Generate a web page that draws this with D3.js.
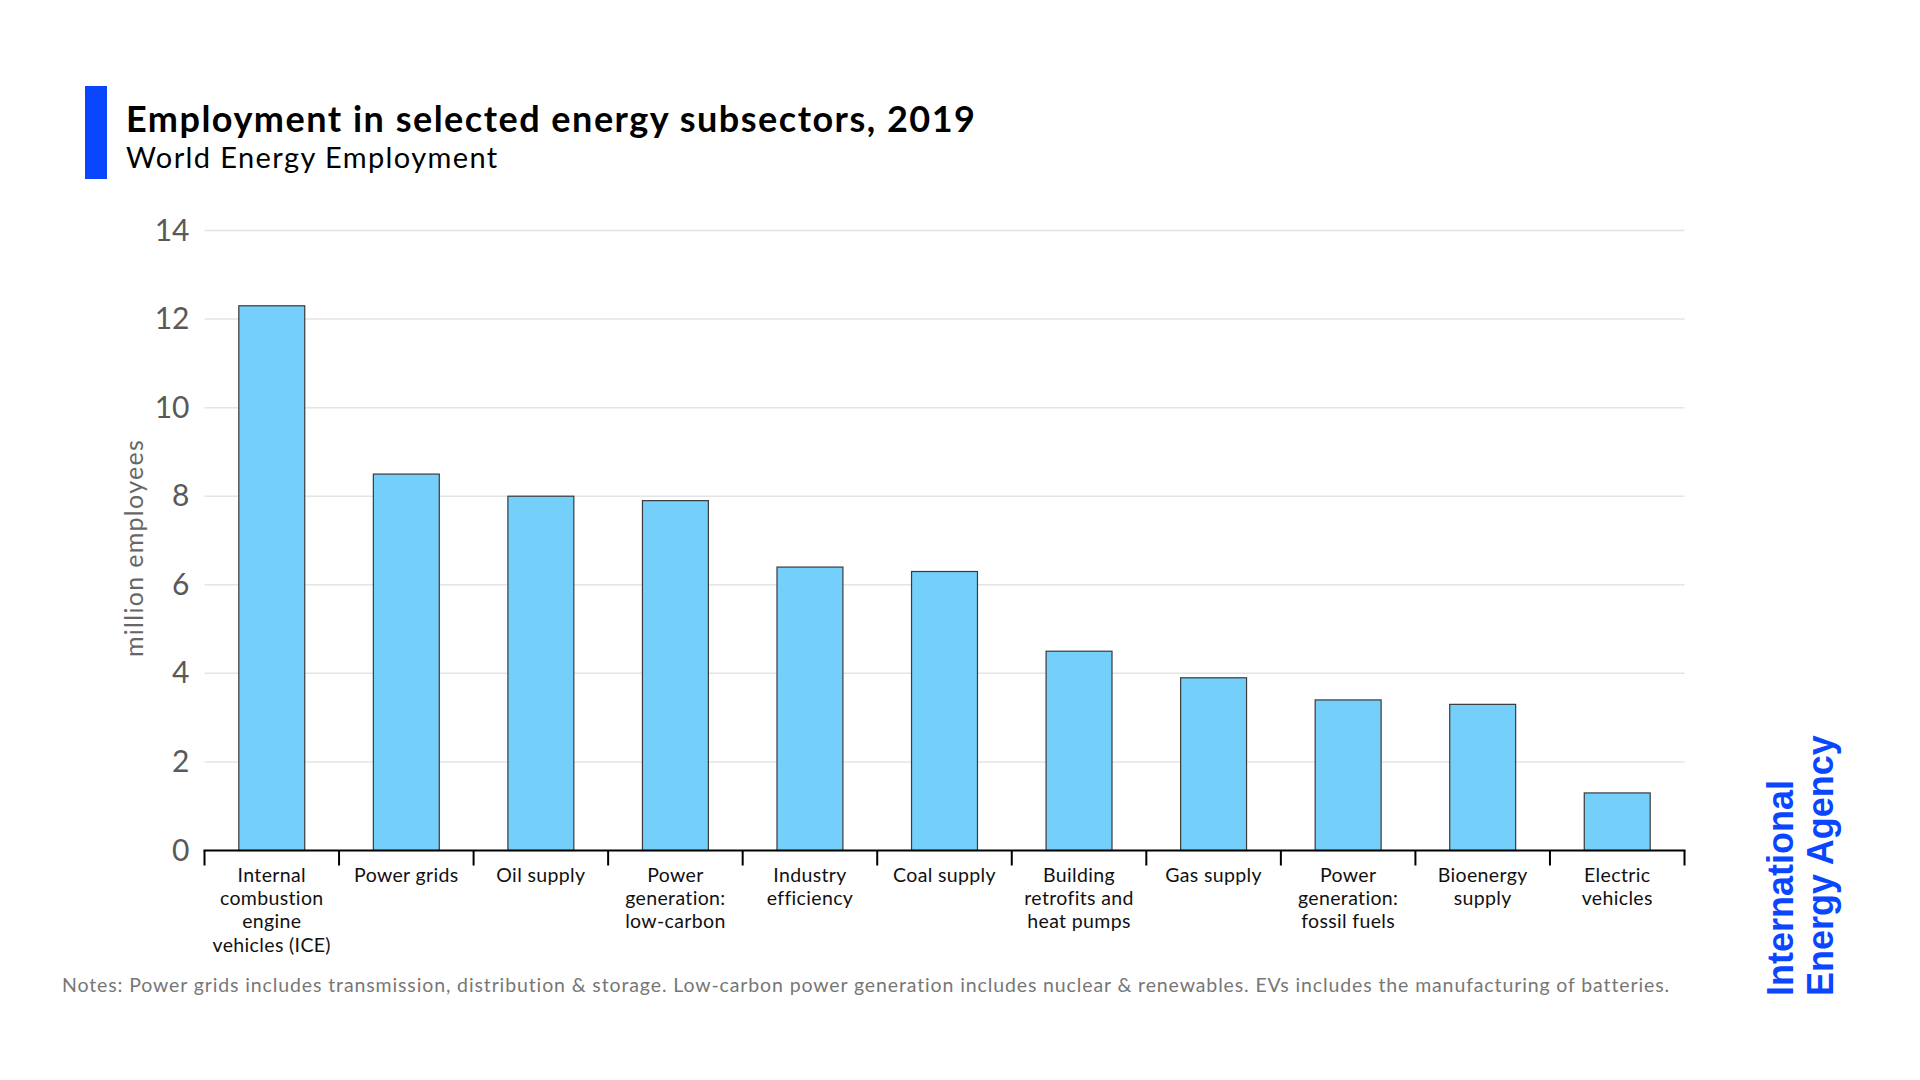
<!DOCTYPE html>
<html>
<head>
<meta charset="utf-8">
<script src="https://cdn.jsdelivr.net/npm/d3@7"></script>
<style>
  html, body { margin: 0; padding: 0; background: #ffffff; }
  svg { display: block; }
</style>
</head>
<body>
<svg id="chart" width="1920" height="1080"></svg>
<script>
// ---- Data ----
const categories = [
  "Internal\ncombustion\nengine\nvehicles (ICE)",
  "Power grids",
  "Oil supply",
  "Power\ngeneration:\nlow-carbon",
  "Industry\nefficiency",
  "Coal supply",
  "Building\nretrofits and\nheat pumps",
  "Gas supply",
  "Power\ngeneration:\nfossil fuels",
  "Bioenergy\nsupply",
  "Electric\nvehicles"
];
const employees = [12.3, 8.5, 8.0, 7.9, 6.4, 6.3, 4.5, 3.9, 3.4, 3.3, 1.3];
const yTicks = [0, 2, 4, 6, 8, 10, 12, 14];

const titleText = "Employment in selected energy subsectors, 2019";
const subtitleText = "World Energy Employment";
const yAxisLabel = "million employees";
const notesText = "Notes: Power grids includes transmission, distribution & storage. Low-carbon power generation includes nuclear & renewables. EVs includes the manufacturing of batteries.";
const logoLines = ["International", "Energy Agency"];

// ---- Layout ----
const FONT = "Lato, 'Open Sans', sans-serif";
const svg = d3.select("#chart");
const plot = { left: 204.5, right: 1684.5, top: 230.5, bottom: 850.5 };

const x = d3.scaleBand()
  .domain(categories)
  .range([plot.left, plot.right])
  .paddingInner(0)
  .paddingOuter(0);

const y = d3.scaleLinear()
  .domain([0, 14])
  .range([plot.bottom, plot.top]);

// Title block
svg.append("rect")
  .attr("x", 85).attr("y", 86)
  .attr("width", 22).attr("height", 93)
  .attr("fill", "#0b46ff");

svg.append("text")
  .attr("x", 126).attr("y", 131.5)
  .attr("font-family", FONT)
  .attr("font-weight", 700)
  .attr("font-size", 36)
  .attr("letter-spacing", 1.5)
  .attr("fill", "#000")
  .text(titleText);

svg.append("text")
  .attr("x", 126).attr("y", 168)
  .attr("font-family", FONT)
  .attr("font-weight", 400)
  .attr("font-size", 29)
  .attr("letter-spacing", 1.4)
  .attr("fill", "#000")
  .text(subtitleText);

// Gridlines
svg.append("g")
  .selectAll("line")
  .data(yTicks.filter(d => d !== 0))
  .join("line")
  .attr("x1", plot.left)
  .attr("x2", plot.right)
  .attr("y1", d => y(d))
  .attr("y2", d => y(d))
  .attr("stroke", "#e4e4e4")
  .attr("stroke-width", 1.5);

// Y axis (labels only)
const yAxis = d3.axisLeft(y)
  .tickValues(yTicks)
  .tickSize(0)
  .tickPadding(15)
  .tickFormat(d3.format("d"));

const gy = svg.append("g")
  .attr("transform", `translate(${plot.left},0)`)
  .call(yAxis);
gy.select(".domain").remove();
gy.selectAll("text")
  .attr("font-family", FONT)
  .attr("font-size", 30)
  .attr("fill", "#595959");

// Y axis title
svg.append("text")
  .attr("transform", `translate(143,548) rotate(-90)`)
  .attr("text-anchor", "middle")
  .attr("font-family", FONT)
  .attr("font-size", 25)
  .attr("letter-spacing", 1.3)
  .attr("fill", "#666666")
  .text(yAxisLabel);

// Bars
const barW = x.bandwidth() * 0.49;
svg.append("g")
  .selectAll("rect")
  .data(categories.map((c, i) => ({ c, v: employees[i] })))
  .join("rect")
  .attr("x", d => x(d.c) + (x.bandwidth() - barW) / 2)
  .attr("y", d => y(d.v))
  .attr("width", barW)
  .attr("height", d => y(0) - y(d.v))
  .attr("fill", "#74cffa")
  .attr("stroke", "#3a3a3a")
  .attr("stroke-width", 1.2);

// X axis: baseline and boundary ticks
const boundaries = categories.map(c => x(c)).concat([plot.right]);
const gx = svg.append("g");
gx.append("line")
  .attr("x1", plot.left - 1).attr("x2", plot.right + 1)
  .attr("y1", y(0)).attr("y2", y(0))
  .attr("stroke", "#000").attr("stroke-width", 2);
gx.selectAll("line.tick")
  .data(boundaries)
  .join("line")
  .attr("class", "tick")
  .attr("x1", d => d).attr("x2", d => d)
  .attr("y1", y(0)).attr("y2", y(0) + 15)
  .attr("stroke", "#000").attr("stroke-width", 2);

// X labels
const labels = svg.append("g")
  .selectAll("text")
  .data(categories)
  .join("text")
  .attr("text-anchor", "middle")
  .attr("font-family", FONT)
  .attr("font-size", 19.5)
  .attr("letter-spacing", 0.35)
  .attr("fill", "#111");
labels.each(function(d) {
  const t = d3.select(this);
  const cx = x(d) + x.bandwidth() / 2;
  d.split("\n").forEach((line, i) => {
    t.append("tspan")
      .attr("x", cx)
      .attr("y", 881.5 + i * 23.4)
      .text(line);
  });
});

// Notes
svg.append("text")
  .attr("x", 62).attr("y", 991.5)
  .attr("font-family", FONT)
  .attr("font-size", 19.5)
  .attr("letter-spacing", 0.88)
  .attr("fill", "#777777")
  .text(notesText);

// Logo
const logo = svg.append("g")
  .attr("font-family", "'Liberation Sans', Arial, sans-serif")
  .attr("font-weight", 700)
  .attr("font-size", 36)
  .attr("fill", "#0b46ff");
logoLines.forEach((line, i) => {
  logo.append("text")
    .attr("transform", `translate(${1793 + i * 40},996) rotate(-90)`)
    .text(line);
});
</script>
</body>
</html>
